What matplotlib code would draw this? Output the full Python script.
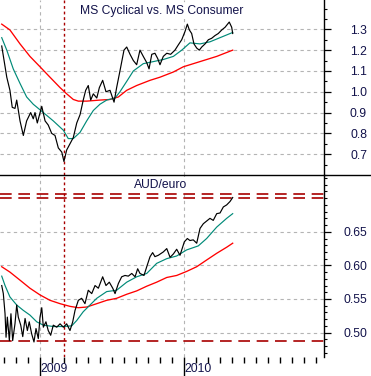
import matplotlib
matplotlib.use("Agg")
import matplotlib.pyplot as plt
from matplotlib.lines import Line2D
from matplotlib.ticker import MultipleLocator, FixedLocator, NullFormatter

plt.rcParams['font.family'] = ['Liberation Sans', 'DejaVu Sans']

# ---- MS Cyclical vs. MS Consumer (decimal years) ----
cyc_t = [2008.732, 2008.767, 2008.789, 2008.805, 2008.824, 2008.836, 2008.859, 2008.882,
         2008.905, 2008.933, 2008.951, 2008.963, 2008.979, 2009.010, 2009.033, 2009.055,
         2009.079, 2009.102, 2009.125, 2009.149, 2009.164, 2009.183, 2009.206, 2009.229,
         2009.253, 2009.276, 2009.298, 2009.315, 2009.333, 2009.350, 2009.368, 2009.392,
         2009.410, 2009.433, 2009.456, 2009.484, 2009.512, 2009.530, 2009.553, 2009.581,
         2009.600, 2009.623, 2009.646, 2009.669, 2009.692, 2009.715, 2009.739, 2009.755,
         2009.774, 2009.796, 2009.815, 2009.831, 2009.854, 2009.878, 2009.905, 2009.935,
         2009.958, 2009.982, 2010.005, 2010.021, 2010.035, 2010.051, 2010.067, 2010.086,
         2010.104, 2010.121, 2010.144, 2010.167, 2010.190, 2010.213, 2010.236, 2010.260,
         2010.283, 2010.312, 2010.329, 2010.336]
cyc_v = [1.22, 1.07, 1.007, 0.925, 0.92, 0.96, 0.86, 0.79,
         0.86, 0.90, 0.87, 0.90, 0.85, 0.93, 0.86, 0.84,
         0.80, 0.79, 0.73, 0.71, 0.665, 0.72, 0.75, 0.78,
         0.85, 0.89, 0.96, 1.007, 1.03, 0.96, 0.99, 0.97,
         1.02, 1.055, 1.00, 1.007, 0.95, 1.02, 1.10, 1.20,
         1.215, 1.18, 1.15, 1.13, 1.20, 1.17, 1.14, 1.11,
         1.18, 1.185, 1.16, 1.13, 1.17, 1.185, 1.18, 1.20,
         1.225, 1.25, 1.29, 1.325, 1.297, 1.28, 1.23, 1.21,
         1.20, 1.215, 1.23, 1.25, 1.257, 1.27, 1.28, 1.297,
         1.31, 1.335, 1.31, 1.28]

cyc_ma50_t = [2008.732, 2008.767, 2008.812, 2008.859, 2008.905, 2008.951, 2009.021, 2009.090,
              2009.160, 2009.194, 2009.229, 2009.276, 2009.322, 2009.368, 2009.414, 2009.461,
              2009.519, 2009.553, 2009.600, 2009.646, 2009.715, 2009.785, 2009.854, 2009.924,
              2009.982, 2010.039, 2010.109, 2010.178, 2010.248, 2010.336]
cyc_ma50_v = [1.26, 1.20, 1.11, 1.04, 0.975, 0.94, 0.90, 0.86,
              0.815, 0.775, 0.775, 0.805, 0.86, 0.91, 0.94, 0.96,
              0.97, 1.00, 1.05, 1.10, 1.135, 1.145, 1.155, 1.17,
              1.20, 1.235, 1.23, 1.24, 1.26, 1.285]

cyc_ma200_t = [2008.732, 2008.789, 2008.859, 2008.928, 2008.998, 2009.067, 2009.137, 2009.183,
               2009.229, 2009.264, 2009.322, 2009.414, 2009.484, 2009.542, 2009.600, 2009.669,
               2009.762, 2009.831, 2009.924, 2009.993, 2010.109, 2010.225, 2010.336]
cyc_ma200_v = [1.325, 1.297, 1.23, 1.17, 1.12, 1.07, 1.02, 0.99,
               0.963, 0.955, 0.955, 0.96, 0.963, 0.975, 1.007, 1.03,
               1.055, 1.07, 1.095, 1.12, 1.145, 1.17, 1.20]

# ---- AUD/euro ----
aud_t = [2008.732, 2008.743, 2008.755, 2008.762, 2008.771, 2008.785, 2008.796, 2008.808,
         2008.824, 2008.836, 2008.847, 2008.864, 2008.878, 2008.894, 2008.910, 2008.923,
         2008.940, 2008.956, 2008.970, 2008.986, 2008.998, 2009.010, 2009.021, 2009.039,
         2009.055, 2009.072, 2009.090, 2009.114, 2009.137, 2009.160, 2009.183, 2009.206,
         2009.225, 2009.241, 2009.264, 2009.287, 2009.310, 2009.333, 2009.357, 2009.380,
         2009.403, 2009.433, 2009.456, 2009.479, 2009.503, 2009.519, 2009.542, 2009.565,
         2009.588, 2009.611, 2009.635, 2009.658, 2009.676, 2009.692, 2009.720, 2009.739,
         2009.762, 2009.780, 2009.796, 2009.819, 2009.854, 2009.878, 2009.901, 2009.924,
         2009.947, 2009.970, 2010.000, 2010.021, 2010.039, 2010.062, 2010.086, 2010.109,
         2010.132, 2010.155, 2010.178, 2010.201, 2010.225, 2010.248, 2010.271, 2010.294,
         2010.317, 2010.336]
aud_v = [0.570, 0.558, 0.528, 0.493, 0.523, 0.488, 0.528, 0.488,
         0.513, 0.541, 0.523, 0.511, 0.494, 0.521, 0.503, 0.516,
         0.498, 0.486, 0.506, 0.491, 0.523, 0.537, 0.508, 0.516,
         0.503, 0.496, 0.511, 0.508, 0.513, 0.508, 0.513, 0.503,
         0.516, 0.533, 0.548, 0.551, 0.543, 0.563, 0.558, 0.570,
         0.566, 0.583, 0.570, 0.575, 0.566, 0.558, 0.573, 0.583,
         0.585, 0.584, 0.588, 0.583, 0.595, 0.588, 0.585, 0.598,
         0.613, 0.619, 0.613, 0.615, 0.620, 0.625, 0.612, 0.617,
         0.624, 0.615, 0.635, 0.640, 0.637, 0.638, 0.633, 0.655,
         0.662, 0.666, 0.670, 0.667, 0.677, 0.678, 0.687, 0.690,
         0.695, 0.701]

aud_ma50_t = [2008.732, 2008.755, 2008.789, 2008.836, 2008.882, 2008.928, 2008.975, 2009.021,
              2009.090, 2009.160, 2009.218, 2009.253, 2009.298, 2009.345, 2009.392, 2009.461,
              2009.530, 2009.600, 2009.669, 2009.739, 2009.808, 2009.878, 2009.947, 2010.016,
              2010.097, 2010.155, 2010.225, 2010.294, 2010.336]
aud_ma50_v = [0.584, 0.570, 0.553, 0.541, 0.533, 0.526, 0.516, 0.511,
              0.509, 0.509, 0.510, 0.518, 0.531, 0.541, 0.551, 0.561,
              0.563, 0.575, 0.583, 0.588, 0.603, 0.610, 0.614, 0.623,
              0.629, 0.640, 0.657, 0.670, 0.677]

aud_ma200_t = [2008.732, 2008.789, 2008.859, 2008.928, 2008.998, 2009.067, 2009.137, 2009.206,
               2009.264, 2009.322, 2009.392, 2009.461, 2009.530, 2009.600, 2009.669, 2009.739,
               2009.808, 2009.878, 2009.947, 2010.016, 2010.086, 2010.155, 2010.225, 2010.294,
               2010.336]
aud_ma200_v = [0.598, 0.590, 0.578, 0.566, 0.556, 0.548, 0.543, 0.539,
               0.537, 0.538, 0.543, 0.548, 0.551, 0.557, 0.562, 0.569,
               0.575, 0.582, 0.585, 0.591, 0.598, 0.608, 0.618, 0.627,
               0.633]

aud_levels = [0.7057, 0.6998, 0.488]
march_2009 = 2009.1665
years = [2009, 2010]

cyc_ticks = [0.7, 0.8, 0.9, 1.0, 1.1, 1.2, 1.3]
aud_ticks = [0.50, 0.55, 0.60, 0.65]

TEXT = "#12124a"
GRID = "#b4b4b4"
DKRED = "#a80000"
TEAL = "#008a78"
FS = 8.7

fig = plt.figure(figsize=(3.71, 3.76), dpi=100)
ax1 = fig.add_axes([0, 0.5346, 0.8733, 0.4654])
ax2 = fig.add_axes([0, 0.0505, 0.8733, 0.4840])

for ax in (ax1, ax2):
    ax.set_xlim(2008.72, 2010.97)
    for s in ("left", "top", "bottom"):
        ax.spines[s].set_visible(False)
    ax.spines["right"].set_linewidth(1.0)
    ax.yaxis.tick_right()
    ax.tick_params(axis="y", which="major", direction="out", length=5, width=0.9,
                   labelsize=FS, labelcolor=TEXT, pad=26)
    ax.tick_params(axis="y", which="minor", direction="out", length=2, width=0.8)
    for y in years:
        ax.axvline(y, color=GRID, lw=0.8, ls=(0, (3, 3)), zorder=0)
    ax.axvline(march_2009, color=DKRED, lw=1.0, ls=(0, (2, 2)), zorder=1)
    ax.grid(axis="y", which="major", color=GRID, lw=0.8, ls=(0, (3, 3)), zorder=0)
    ax.set_axisbelow(True)

# top panel
ax1.plot(cyc_ma200_t, cyc_ma200_v, color="red", lw=0.95, zorder=3)
ax1.plot(cyc_ma50_t, cyc_ma50_v, color=TEAL, lw=0.85, zorder=3)
ax1.plot(cyc_t, cyc_v, color="black", lw=0.85, zorder=4)
ax1.set_ylim(0.60, 1.441)
ax1.yaxis.set_major_locator(FixedLocator(cyc_ticks))
ax1.set_yticklabels([f"{v:.1f}" for v in cyc_ticks])
ax1.yaxis.set_minor_locator(MultipleLocator(0.05))
ax1.set_xticks([])
ax1.text(0.5, 0.937, "MS Cyclical vs. MS Consumer", transform=ax1.transAxes,
         ha="center", va="center", fontsize=FS, color=TEXT, zorder=5,
         bbox=dict(facecolor="white", edgecolor="none", pad=1.5))

# bottom panel
for lv in aud_levels:
    ax2.axhline(lv, color=DKRED, lw=1.2, ls=(0, (7, 4)), zorder=2)
ax2.plot(aud_ma200_t, aud_ma200_v, color="red", lw=0.95, zorder=3)
ax2.plot(aud_ma50_t, aud_ma50_v, color=TEAL, lw=0.85, zorder=3)
ax2.plot(aud_t, aud_v, color="black", lw=0.85, zorder=4)
ax2.set_ylim(0.4636, 0.7345)
ax2.yaxis.set_major_locator(FixedLocator(aud_ticks))
ax2.set_yticklabels([f"{v:.2f}" for v in aud_ticks])
ax2.yaxis.set_minor_locator(MultipleLocator(0.01))
ax2.text(0.497, 0.945, "AUD/euro", transform=ax2.transAxes,
         ha="center", va="center", fontsize=FS, color=TEXT, zorder=5,
         bbox=dict(facecolor="white", edgecolor="none", pad=1.5))

months = [2008 + k / 12 for k in range(9, 36) if 2008.72 <= 2008 + k / 12 <= 2010.97]
ax2.xaxis.set_major_locator(FixedLocator(years))
ax2.xaxis.set_minor_locator(FixedLocator([m for m in months if round(m, 3) not in years]))
ax2.xaxis.set_major_formatter(NullFormatter())
ax2.tick_params(axis="x", which="major", direction="out", length=14, width=1.0)
ax2.tick_params(axis="x", which="minor", direction="out", length=4, width=1.0)
for y in years:
    ax2.text(y + 0.004, -0.035, str(y), transform=ax2.get_xaxis_transform(),
             ha="left", va="top", fontsize=FS, color=TEXT)

for ax in (ax1, ax2):
    for lab in ax.get_yticklabels():
        lab.set_horizontalalignment("right")

fig.add_artist(Line2D([0, 1], [0.5346, 0.5346], transform=fig.transFigure,
                      color="black", lw=1.0))

fig.savefig("out.png", dpi=100)
